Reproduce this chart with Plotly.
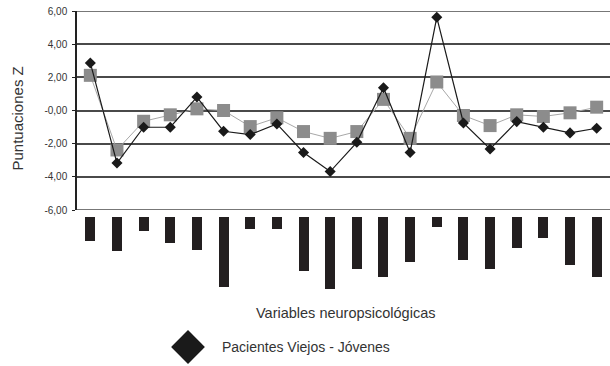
import plotly.graph_objects as go

W, H = 610, 366

categories = ["V1", "V2", "V3", "V4", "V5", "V6", "V7", "V8", "V9", "V10",
              "V11", "V12", "V13", "V14", "V15", "V16", "V17", "V18", "V19", "V20"]

viejos_jovenes = [2.87, -3.17, -1.01, -1.01, 0.81, -1.25, -1.45, -0.81, -2.53, -3.68,
                  -1.92, 1.37, -2.53, 5.62, -0.75, -2.32, -0.67, -1.01, -1.35, -1.07]

serie_gris = [2.12, -2.38, -0.65, -0.26, 0.10, 0.00, -0.97, -0.44, -1.27, -1.68,
              -1.27, 0.67, -1.68, 1.72, -0.30, -0.91, -0.26, -0.36, -0.14, 0.20]

# lengths of the (hidden) category label blocks below the axis
label_lengths = [24, 34, 14, 26, 33, 70, 12, 12, 54, 72,
                 52, 60, 45, 10, 43, 52, 31, 21, 48, 60]

y_tickvals = [6, 4, 2, 0, -2, -4, -6]
y_ticktext = ["6,00", "4,00", "2,00", "-0,00", "-2,00", "-4,00", "-6,00"]
y_min, y_max = -6, 6

FONT = "Liberation Sans Narrow, Liberation Sans, Arial, sans-serif"
TICKFONT = "Liberation Sans, Arial, sans-serif"
GRID = "#4a4a4a"


def px(p):
    return p / W


def py(p):
    return 1 - p / H


x_idx = list(range(len(categories)))

fig = go.Figure()

fig.add_trace(go.Scatter(
    x=x_idx, y=serie_gris, mode="lines+markers",
    line=dict(color="#a8a8a8", width=1),
    marker=dict(symbol="square", size=13, color="#8c8c8c"),
    showlegend=False, xaxis="x", yaxis="y"))

fig.add_trace(go.Scatter(
    x=x_idx, y=viejos_jovenes, mode="lines+markers",
    name="Pacientes Viejos - Jóvenes",
    line=dict(color="#1a1a1a", width=1.2),
    marker=dict(symbol="diamond", size=8.5, color="#1a1a1a"),
    showlegend=False, xaxis="x", yaxis="y"))

# label blocks below the axis
top_off = 7
fig.add_trace(go.Bar(
    x=x_idx, y=[-v for v in label_lengths], base=[-top_off] * len(label_lengths),
    width=0.375, marker=dict(color="#231f20", line=dict(width=0)),
    showlegend=False, xaxis="x2", yaxis="y2", hoverinfo="skip"))

# legend symbol
fig.add_trace(go.Scatter(
    x=[188], y=[347], mode="markers",
    marker=dict(symbol="diamond", size=26, color="#1a1a1a"),
    showlegend=False, xaxis="x3", yaxis="y3", hoverinfo="skip"))

dom_x = [px(77), 1.0]
top_px, bot_px = 11, 210

fig.update_layout(
    width=W, height=H,
    margin=dict(l=0, r=0, t=0, b=0),
    paper_bgcolor="white", plot_bgcolor="rgba(0,0,0,0)",
    font=dict(family=FONT, color="#333333"),
    bargap=0,
    xaxis=dict(domain=dom_x, range=[-0.5, 19.5], showgrid=False, zeroline=False,
               showline=False, showticklabels=False, ticks="", automargin=False,
               fixedrange=True),
    yaxis=dict(domain=[py(bot_px), py(top_px)], range=[y_min, y_max],
               tickvals=y_tickvals, ticktext=y_ticktext,
               tickfont=dict(family=TICKFONT, size=10, color="#333333"),
               showgrid=True, gridcolor=GRID, gridwidth=1.5,
               zeroline=False, showline=True, linecolor="#222222", linewidth=1.5,
               ticks="outside", ticklen=3, tickcolor="#222222",
               ticklabelstandoff=3, automargin=False),
    xaxis4=dict(overlaying="x", anchor="free", position=py(110.5),
                range=[-0.5, 19.5], tickvals=[i + 0.5 for i in range(19)],
                showticklabels=False, ticks="outside", ticklen=4,
                tickcolor="#222222", showline=True, linecolor="#222222",
                linewidth=1.5, showgrid=False, zeroline=False, automargin=False),
    xaxis2=dict(domain=dom_x, anchor="y2", range=[-0.5, 19.5], visible=False),
    yaxis2=dict(domain=[py(310), py(210)], anchor="x2", range=[-100, 0], visible=False),
    xaxis3=dict(domain=[0, 1], anchor="y3", range=[0, W], visible=False),
    yaxis3=dict(domain=[0, 1], anchor="x3", range=[H, 0], visible=False),
    shapes=[
        dict(type="line", xref="x domain", yref="y", x0=0, x1=1, y0=y_max, y1=y_max,
             line=dict(color=GRID, width=1.5), layer="below"),
        dict(type="line", xref="x domain", yref="y", x0=0, x1=1, y0=y_min, y1=y_min,
             line=dict(color=GRID, width=1.5), layer="below"),
    ],
    annotations=[
        dict(text="Puntuaciones Z", x=px(16.5), y=py(119), xref="paper", yref="paper",
             textangle=-90, showarrow=False, font=dict(size=15, color="#333333"),
             xanchor="center", yanchor="middle"),
        dict(text="Variables neuropsicológicas", x=px(345), y=py(313),
             xref="paper", yref="paper", showarrow=False,
             font=dict(size=14.5, color="#333333"), xanchor="center", yanchor="middle"),
        dict(text="Pacientes Viejos - Jóvenes", x=px(220), y=py(347),
             xref="paper", yref="paper", showarrow=False,
             font=dict(size=14, color="#333333"), xanchor="left", yanchor="middle"),
    ],
)

# remove the browser's default 8px page margin so the figure sits at the window origin
fig.write_html("out.html", config={"displayModeBar": False},
               post_script="document.body.style.margin='0';")
